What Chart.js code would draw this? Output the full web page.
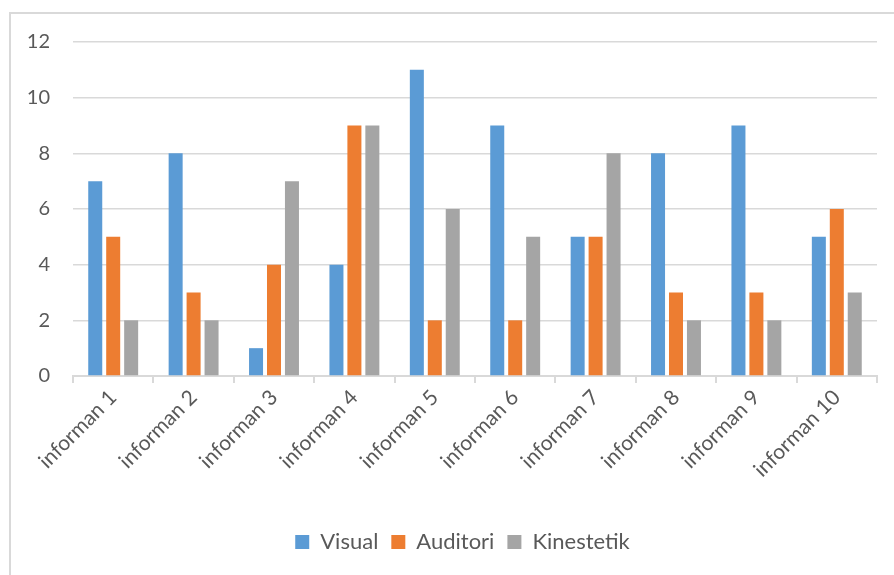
<!DOCTYPE html>
<html>
<head>
<meta charset="utf-8">
<script src="https://cdn.jsdelivr.net/npm/chart.js@4"></script>
<style>
  html, body { margin: 0; padding: 0; background: #fff; }
  #wrap { position: relative; width: 894px; height: 575px; overflow: hidden; }
  #frame { position: absolute; left: 9px; top: 12px; width: 900px; height: 600px;
           border-left: 2px solid #d9d9d9; border-top: 2px solid #d9d9d9; box-sizing: border-box; }
  #c { position: absolute; left: 0; top: 0; }
</style>
</head>
<body>
<div id="wrap">
  <div id="frame"></div>
  <canvas id="c" width="894" height="575"></canvas>
</div>
<script>
const categories = ['informan 1', 'informan 2', 'informan 3', 'informan 4', 'informan 5',
  'informan 6', 'informan 7', 'informan 8', 'informan 9', 'informan 10'];
const visual = [7, 8, 1, 4, 11, 9, 5, 8, 9, 5];
const auditori = [5, 3, 4, 9, 2, 2, 5, 3, 3, 6];
const kinestetik = [2, 2, 7, 9, 6, 5, 8, 2, 2, 3];

const textColor = '#595959';
const gridColor = '#d9d9d9';
const family = 'Lato, "Open Sans", sans-serif';

// the original chart box runs past the right edge, so its legend sits a bit right of centre
const shiftLegend = {
  id: 'shiftLegend',
  afterLayout(chart) {
    const lg = chart.legend;
    if (!lg) return;
    lg.left += 19;
    lg.right += 19;
    if (lg.adjustHitBoxes) lg.adjustHitBoxes();
  }
};

new Chart(document.getElementById('c'), {
  type: 'bar',
  data: {
    labels: categories,
    datasets: [
      { label: 'Visual', data: visual, backgroundColor: '#5b9bd5' },
      { label: 'Auditori', data: auditori, backgroundColor: '#ed7d31' },
      { label: 'Kinestetik', data: kinestetik, backgroundColor: '#a5a5a5' },
    ]
  },
  plugins: [shiftLegend],
  options: {
    responsive: false,
    animation: false,
    categoryPercentage: 0.67,
    barPercentage: 0.78,
    layout: { padding: { left: 10, right: 17, top: 42, bottom: 12 } },
    scales: {
      x: {
        afterFit: s => { s.height = 142; },
        grid: { offset: true, drawOnChartArea: false, drawTicks: true, tickLength: 7, color: gridColor, lineWidth: 2 },
        border: { color: gridColor, width: 2 },
        ticks: { color: textColor, font: { family, size: 21 }, minRotation: 45, maxRotation: 45, padding: 2 },
      },
      y: {
        min: 0,
        max: 12,
        afterFit: s => { s.width = 63; },
        grid: { color: gridColor, lineWidth: 1.5, drawTicks: false },
        border: { display: false },
        ticks: { stepSize: 2, color: textColor, font: { family, size: 20 }, padding: 23 },
      },
    },
    plugins: {
      legend: {
        position: 'bottom',
        labels: { color: textColor, font: { family, size: 22 }, boxWidth: 14, boxHeight: 14, padding: 13 },
      },
      tooltip: { enabled: false },
    }
  }
});
</script>
</body>
</html>
